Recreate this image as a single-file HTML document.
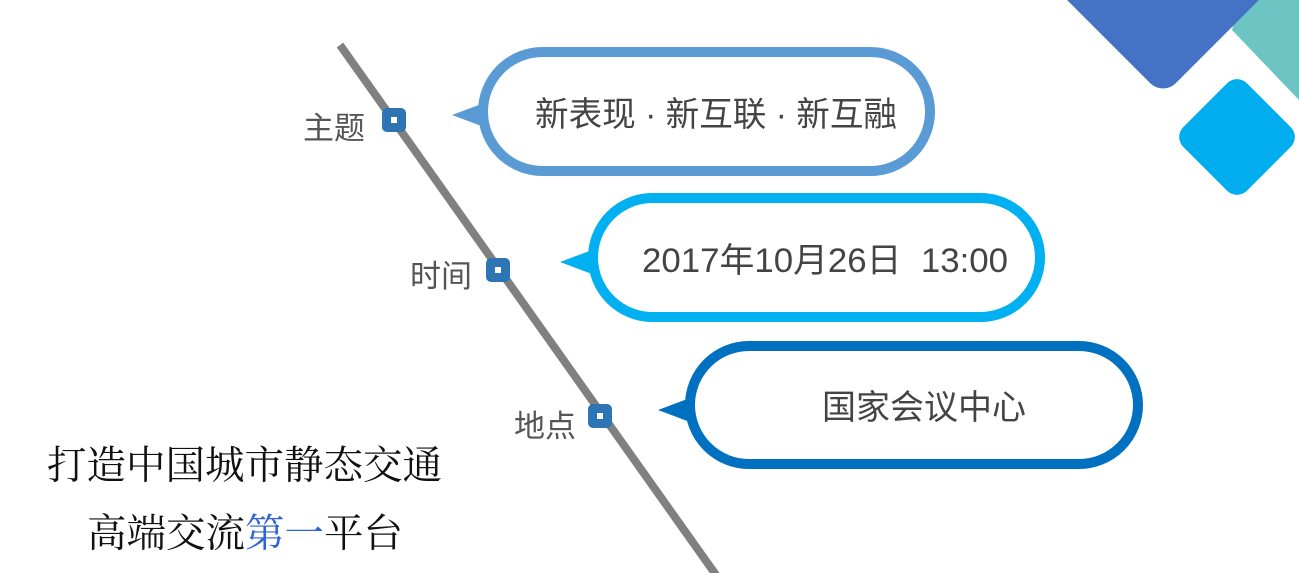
<!DOCTYPE html>
<html><head><meta charset="utf-8"><style>
html,body{margin:0;padding:0;background:#fff;}
svg{display:block}
.sans{font-family:"Liberation Sans","Noto Sans CJK SC",sans-serif;}
.serif{font-family:"Liberation Serif","Noto Serif CJK SC",serif;}
</style></head><body>
<svg width="1299" height="573" viewBox="0 0 1299 573" xmlns="http://www.w3.org/2000/svg">
<rect width="1299" height="573" fill="#fff"/>
<!-- top right shapes -->
<polygon points="1240,0 1299,0 1299,100 1232,30" fill="#6cc5c2"/>
<rect x="1081" y="-102" width="164" height="164" rx="18" transform="rotate(45 1163 -20)" fill="#4472c4"/>
<rect x="1192" y="92" width="90" height="90" rx="14" transform="rotate(45 1237 137)" fill="#00aeef"/>
<!-- line -->
<line x1="340" y1="45" x2="716" y2="575" stroke="#808080" stroke-width="8"/>
<!-- markers -->
<g fill="#2e75b6">
<rect x="382" y="108" width="24" height="24" rx="5"/>
<rect x="486" y="258" width="24" height="24" rx="5"/>
<rect x="588" y="404" width="24" height="24" rx="5"/>
</g>
<g fill="#fff">
<rect x="391" y="117" width="6" height="6"/>
<rect x="495" y="267" width="6" height="6"/>
<rect x="597" y="413" width="6" height="6"/>
</g>
<!-- labels -->
<g class="sans" font-size="31" fill="#555">
<text x="303" y="139">主题</text>
<text x="410" y="287">时间</text>
<text x="514" y="437">地点</text>
</g>
<!-- bubbles -->
<polygon points="452,115 492,100 492,130" fill="#5b9bd5"/>
<rect x="483" y="52" width="447" height="119" rx="59.5" fill="#fff" stroke="#5b9bd5" stroke-width="10"/>
<polygon points="560,262 600,247 600,277" fill="#00b0f0"/>
<rect x="593" y="198" width="447" height="119" rx="59.5" fill="#fff" stroke="#00b0f0" stroke-width="10"/>
<polygon points="658,410 698,395 698,425" fill="#0070c0"/>
<rect x="690" y="346" width="448" height="118" rx="59" fill="#fff" stroke="#0070c0" stroke-width="10"/>
<g class="sans" font-size="34" fill="#444">
<text x="535" y="126" textLength="362" lengthAdjust="spacingAndGlyphs">新表现 · 新互联 · 新互融</text>
<text x="642" y="272" textLength="366" lengthAdjust="spacingAndGlyphs">2017年10月26日&#160;&#160;13:00</text>
<text x="822" y="419">国家会议中心</text>
</g>
<g class="serif" font-size="39.5" fill="#111">
<text x="47" y="479">打造中国城市静态交通</text>
<text x="87" y="547">高端交流<tspan fill="#2f63d6">第一</tspan>平台</text>
</g>
</svg>
</body></html>
